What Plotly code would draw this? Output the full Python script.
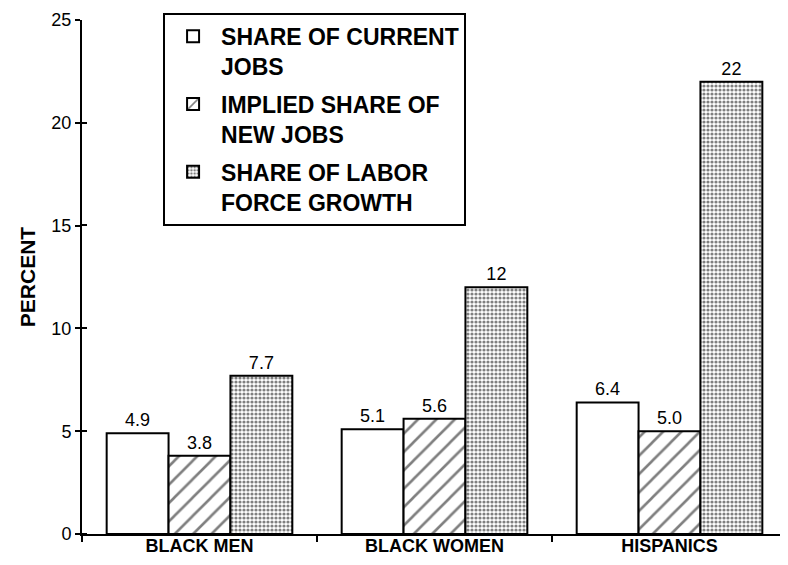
import plotly.graph_objects as go

# Data
groups = ["BLACK MEN", "BLACK WOMEN", "HISPANICS"]
current_jobs = [4.9, 5.1, 6.4]
new_jobs = [3.8, 5.6, 5.0]
labor_growth = [7.7, 12, 22]
current_txt = ["4.9", "5.1", "6.4"]
new_txt = ["3.8", "5.6", "5.0"]
labor_txt = ["7.7", "12", "22"]
y_ticks = [0, 5, 10, 15, 20, 25]

FONT = "Liberation Sans, Arial, Helvetica, sans-serif"
txt_font = dict(family=FONT, size=18, color="black")

fig = go.Figure()

fig.add_trace(go.Bar(
    x=groups, y=current_jobs, text=current_txt, name="SHARE OF CURRENT<br>JOBS",
    legendgroup="a",
    marker=dict(color="white", line=dict(color="black", width=2)),
    textposition="outside", textfont=txt_font, cliponaxis=False))

fig.add_trace(go.Bar(
    x=groups, y=new_jobs, text=new_txt, name="IMPLIED SHARE OF<br>NEW JOBS",
    legendgroup="b",
    marker=dict(color="white", line=dict(color="black", width=2),
                pattern=dict(shape="/", fgcolor="black", bgcolor="white",
                             size=13, solidity=0.2)),
    textposition="outside", textfont=txt_font, cliponaxis=False))

fig.add_trace(go.Bar(
    x=groups, y=labor_growth, text=labor_txt, name="SHARE OF LABOR<br>FORCE GROWTH",
    legendgroup="c",
    marker=dict(color="white", line=dict(color="black", width=2),
                pattern=dict(shape=".", fgcolor="black", bgcolor="white",
                             size=4, solidity=0.5)),
    textposition="outside", textfont=txt_font, cliponaxis=False))

fig.update_layout(
    width=780, height=557,
    margin=dict(l=74, r=1, t=12, b=31),
    paper_bgcolor="white", plot_bgcolor="white",
    font=dict(family=FONT, color="black"),
    barmode="group", bargap=0.21, bargroupgap=0,
    legend=dict(
        x=0.115, y=1.014, xanchor="left", yanchor="top",
        bordercolor="black", borderwidth=2, bgcolor="white",
        font=dict(family=FONT, size=23, color="black", weight="bold"),
        valign="top", tracegroupgap=5, itemwidth=46,
    ),
    xaxis=dict(
        range=[-0.5, 2.5], showline=True, linecolor="black", linewidth=2,
        ticks="outside", ticklen=6, tickwidth=2, tickcolor="black",
        tickson="boundaries", showgrid=False, zeroline=False,
        ticklabelstandoff=-6,
        tickfont=dict(family=FONT, size=18, color="black", weight="bold"),
    ),
    yaxis=dict(
        range=[0, 25], tickvals=y_ticks, showline=True, linecolor="black",
        linewidth=2, ticks="outside", ticklen=5, tickwidth=2, tickcolor="black",
        showgrid=False, zeroline=False,
        minor=dict(tickvals=[v + 0.01 for v in y_ticks], ticks="inside",
                   ticklen=5, tickwidth=2, tickcolor="black", showgrid=False),
        tickfont=dict(family=FONT, size=18, color="black"),
        title=dict(text="PERCENT", standoff=10,
                   font=dict(family=FONT, size=21, color="black", weight="bold")),
    ),
)

fig.write_html("out.html")
